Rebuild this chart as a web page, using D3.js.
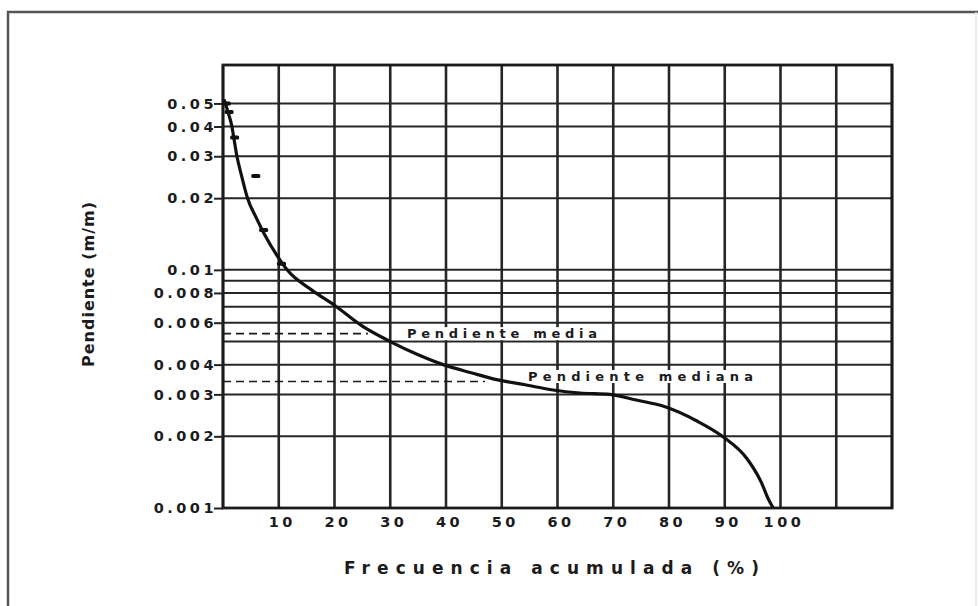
<!DOCTYPE html>
<html>
<head>
<meta charset="utf-8">
<script src="https://cdn.jsdelivr.net/npm/d3@7"></script>
<style>
  body { margin: 0; background: #fff; }
  svg { display: block; }
  text { font-family: "DejaVu Sans", sans-serif; fill: #1c1c1c; }
</style>
</head>
<body>
<svg id="chart" width="978" height="606"></svg>
<script>
// Curva de frecuencia acumulada (%) vs pendiente (m/m)
const frecuencia = [0.2, 0.9, 1.6, 2.1, 2.5, 3.3, 4.4, 6.0, 7.5, 10, 11.5, 16, 20, 25, 30, 35, 39.5, 44.5, 49.3, 54, 59.2, 64, 69.4, 74.1, 78.9, 85.0, 89.7, 94.0, 96.5, 97.9, 98.7];
const pendiente = [0.052, 0.046, 0.040, 0.034, 0.030, 0.025, 0.020, 0.0165, 0.0140, 0.0112, 0.0100, 0.0082, 0.0071, 0.0058, 0.0050, 0.0044, 0.0040, 0.0037, 0.00345, 0.0033, 0.00313, 0.00304, 0.0030, 0.00284, 0.00268, 0.00232, 0.00199, 0.00161, 0.00129, 0.00108, 0.0010];

// Puntos observados (marcas sobre la curva)
const puntosFrecuencia = [0.5, 1.0, 2.0, 5.8, 7.2, 10.4];
const puntosPendiente = [0.050, 0.046, 0.036, 0.0248, 0.0147, 0.0106];

// Ejes
const ticksX = [10, 20, 30, 40, 50, 60, 70, 80, 90, 100];
const gridX = [0, 10, 20, 30, 40, 50, 60, 70, 80, 90, 100, 110, 120];
const ticksY = [0.05, 0.04, 0.03, 0.02, 0.01, 0.008, 0.006, 0.004, 0.003, 0.002, 0.001];
const ticksYLabels = ['0.05', '0.04', '0.03', '0.02', '0.01', '0.008', '0.006', '0.004', '0.003', '0.002', '0.001'];
const gridY = [0.05, 0.04, 0.03, 0.02, 0.01, 0.009, 0.008, 0.007, 0.006, 0.005, 0.004, 0.003, 0.002, 0.001];

// Pendiente media y mediana
const referencias = ['Pendiente media', 'Pendiente mediana'];
const referenciasValor = [0.0054, 0.0034];
const referenciasFin = [26, 47];
const referenciasTextoX = [33, 54.7];

const svg = d3.select('#chart');

const x = d3.scaleLinear().domain([0, 120]).range([223, 892]);
const y = d3.scaleLog().domain([0.001, 0.0725]).range([508, 65]);

// marco exterior
svg.append('path')
    .attr('d', 'M8,606 L8,12 L978,12')
    .attr('fill', 'none')
    .attr('stroke', '#555')
    .attr('stroke-width', 2.5);
svg.append('line')
    .attr('x1', 976).attr('x2', 976).attr('y1', 12).attr('y2', 606)
    .attr('stroke', '#e4e4e4').attr('stroke-width', 1.5);

// Cuadricula
const grid = svg.append('g').attr('class', 'grid');

grid.selectAll('.vline')
    .data(gridX)
    .enter()
    .append('line')
    .attr('class', 'vline')
    .attr('x1', d => x(d)).attr('x2', d => x(d))
    .attr('y1', y(0.0725)).attr('y2', y(0.001))
    .attr('stroke', '#262626')
    .attr('stroke-width', 2.6);

grid.selectAll('.hline')
    .data(gridY)
    .enter()
    .append('line')
    .attr('class', 'hline')
    .attr('x1', x(0)).attr('x2', x(120))
    .attr('y1', d => y(d)).attr('y2', d => y(d))
    .attr('stroke', '#262626')
    .attr('stroke-width', 2);

// borde del grafico
svg.append('rect')
    .attr('x', x(0)).attr('y', y(0.0725))
    .attr('width', x(120) - x(0))
    .attr('height', y(0.001) - y(0.0725))
    .attr('fill', 'none')
    .attr('stroke', '#1a1a1a')
    .attr('stroke-width', 2.8);

// Eje Y
const yAxis = d3.axisLeft(y)
    .tickValues(ticksY)
    .tickFormat((d, i) => ticksYLabels[i])
    .tickSize(9)
    .tickPadding(-3);

svg.append('g')
    .attr('transform', `translate(${x(0)},0)`)
    .call(yAxis)
    .call(g => g.select('.domain').remove())
    .call(g => g.selectAll('line').attr('stroke', '#222').attr('stroke-width', 2))
    .call(g => g.selectAll('text')
        .attr('fill', '#1c1c1c')
        .style('font-family', '"DejaVu Sans", sans-serif')
        .style('font-size', '14.5px')
        .style('font-weight', 'bold')
        .style('letter-spacing', '3.5px'));

// Eje X
const xAxis = d3.axisBottom(x)
    .tickValues(ticksX)
    .tickFormat(d3.format('d'))
    .tickSize(0)
    .tickPadding(9);

svg.append('g')
    .attr('transform', `translate(3,${y(0.001)})`)
    .call(xAxis)
    .call(g => g.select('.domain').remove())
    .call(g => g.selectAll('text')
        .attr('fill', '#1c1c1c')
        .style('font-family', '"DejaVu Sans", sans-serif')
        .style('font-size', '14.5px')
        .style('font-weight', 'bold')
        .style('letter-spacing', '3.5px'));

// Lineas de referencia (discontinuas)
const refs = svg.selectAll('.referencia')
    .data(referencias)
    .enter()
    .append('g')
    .attr('class', 'referencia');

refs.append('line')
    .attr('x1', x(0))
    .attr('x2', (d, i) => x(referenciasFin[i]))
    .attr('y1', (d, i) => y(referenciasValor[i]))
    .attr('y2', (d, i) => y(referenciasValor[i]))
    .attr('stroke', '#1a1a1a')
    .attr('stroke-width', 1.6)
    .attr('stroke-dasharray', '8,5');

const largoTexto = [190, 225];

refs.each(function(d, i) {
    const g = d3.select(this);
    const ty = y(referenciasValor[i]) - (i === 1 ? 5 : 0);
    const t = g.append('text')
        .attr('x', x(referenciasTextoX[i]))
        .attr('y', ty)
        .attr('dy', '0.35em')
        .attr('textLength', largoTexto[i])
        .attr('lengthAdjust', 'spacing')
        .style('font-size', '13px')
        .style('font-weight', 'bold')
        .text(d);
    const b = t.node().getBBox();
    g.insert('rect', 'text')
        .attr('x', b.x - 3).attr('y', b.y + 1)
        .attr('width', b.width + 6).attr('height', b.height - 2)
        .attr('fill', '#fff');
});

// Curva
const linea = d3.line()
    .x(d => x(d[0]))
    .y(d => y(d[1]))
    .curve(d3.curveMonotoneX);

svg.append('path')
    .datum(frecuencia.map((f, i) => [f, pendiente[i]]))
    .attr('d', linea)
    .attr('fill', 'none')
    .attr('stroke', '#111')
    .attr('stroke-width', 3.2);

// Marcas de datos
svg.selectAll('.punto')
    .data(puntosFrecuencia.map((f, i) => [f, puntosPendiente[i]]))
    .enter()
    .append('rect')
    .attr('class', 'punto')
    .attr('x', d => x(d[0]) - 4)
    .attr('y', d => y(d[1]) - 2)
    .attr('width', 9)
    .attr('height', 4)
    .attr('rx', 1.5)
    .attr('fill', '#111');

// Titulos de ejes
svg.append('text')
    .attr('x', 344)
    .attr('y', 568)
    .attr('dy', '0.35em')
    .attr('textLength', 415)
    .attr('lengthAdjust', 'spacing')
    .style('font-size', '17px')
    .style('font-weight', 'bold')
    .text('Frecuencia acumulada (%)');

svg.append('text')
    .attr('transform', 'translate(88,367) rotate(-90)')
    .attr('dy', '0.35em')
    .attr('textLength', 165)
    .attr('lengthAdjust', 'spacing')
    .style('font-size', '16px')
    .style('font-weight', 'bold')
    .text('Pendiente (m/m)');
</script>
</body>
</html>
